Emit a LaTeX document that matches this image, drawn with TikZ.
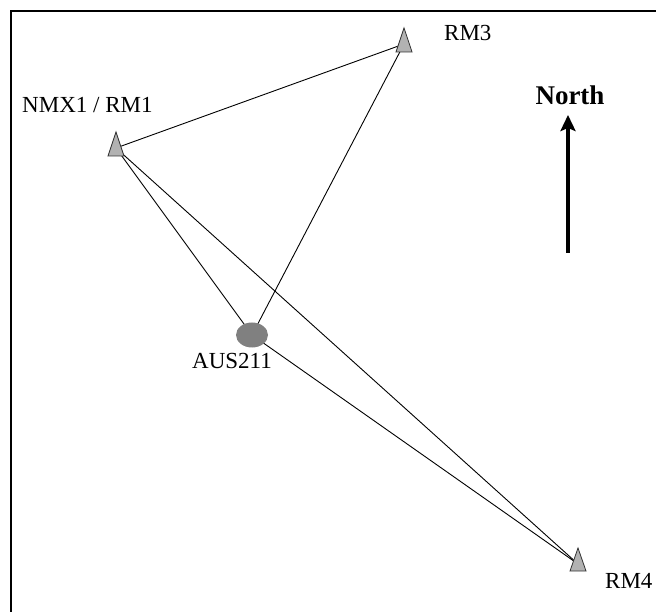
\documentclass[tikz,border=0pt]{standalone}
\usepackage{fontspec}
\setmainfont{Liberation Serif}
\usetikzlibrary{arrows.meta,shapes.geometric}
\definecolor{trifill}{HTML}{B2B2B2}
\definecolor{ellfill}{HTML}{808080}
\tikzset{
  station/.style={draw=black!80, line width=0.8pt, fill=trifill},
  link/.style={draw=black, line width=0.9pt},
  lbl/.style={font=\fontsize{23}{27}\selectfont, inner sep=0pt},
}
\begin{document}
\begin{tikzpicture}[x=1pt,y=-1pt]
\useasboundingbox (0,0) rectangle (656,612);
% frame (top and left edges)
\draw[line width=1.6pt] (11,612) -- (11,11) -- (656,11);
% station reference points
\coordinate (nmx) at (116,148);
\coordinate (rm3) at (404,44);
\coordinate (rm4) at (578,564);
\coordinate (aus) at (252,335);
% connectors
\draw[link] (nmx) -- (rm3);
\draw[link] (nmx) -- (aus);
\draw[link] (nmx) -- (rm4);
\draw[link] (rm3) -- (aus);
\draw[link] (aus) -- (rm4);
% stations
\draw[station] (108,156) -- (116,132) -- (124,156) -- cycle;
\draw[station] (396,52) -- (404,28) -- (412,52) -- cycle;
\draw[station] (570,571) -- (578,548) -- (586,571) -- cycle;
\node[ellipse, fill=ellfill, minimum width=32pt, minimum height=25pt, inner sep=0pt] (ausmark) at (aus) {};
% labels
\node[lbl, anchor=base west] (nmxlbl) at (22,113) {NMX1 / RM1};
\node[lbl, anchor=base west] (rm3lbl) at (444,41) {RM3};
\node[lbl, anchor=base east] (auslbl) at (272,368) {AUS211};
\node[lbl, anchor=base west] (rm4lbl) at (605,588) {RM4};
\node[font=\fontsize{27}{32}\selectfont\bfseries, inner sep=0pt, anchor=base] (north) at (570,105) {North};
\coordinate (arrbot) at (568,253);
\coordinate (arrtop) at (568,115);
\draw[line width=3.5pt, -{Stealth[length=16pt,width=15pt,inset=3pt]}] (arrbot) -- (arrtop);
\end{tikzpicture}
\end{document}
